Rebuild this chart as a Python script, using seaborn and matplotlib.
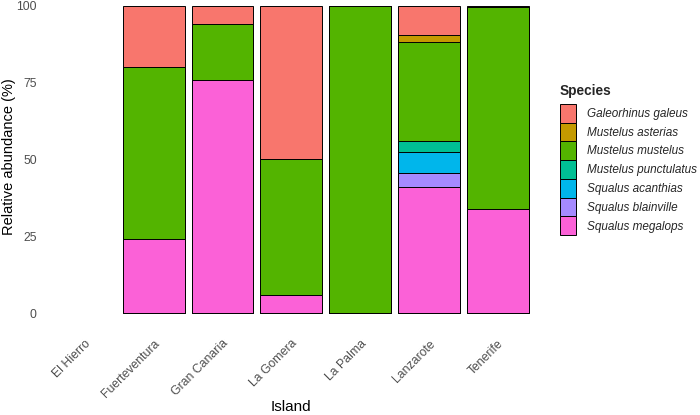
import matplotlib
matplotlib.use("Agg")
import matplotlib.pyplot as plt
from matplotlib.patches import Patch
import seaborn as sns
import pandas as pd
import numpy as np

islands = ["El Hierro", "Fuerteventura", "Gran Canaria", "La Gomera", "La Palma", "Lanzarote", "Tenerife"]
species = ["Galeorhinus galeus", "Mustelus asterias", "Mustelus mustelus",
           "Mustelus punctulatus", "Squalus acanthias", "Squalus blainville", "Squalus megalops"]
colors = ["#F8766D", "#C49A00", "#53B400", "#00C094", "#00B6EB", "#A58AFF", "#FB61D7"]

# relative abundance (%) per island, per species (El Hierro: no records)
galeorhinus_galeus   = [np.nan, 20.0, 6.0, 50.0, 0.0, 9.5, 0.5]
mustelus_asterias    = [np.nan, 0.0, 0.0, 0.0, 0.0, 2.1, 0.0]
mustelus_mustelus    = [np.nan, 56.0, 18.0, 44.0, 100.0, 32.3, 65.5]
mustelus_punctulatus = [np.nan, 0.0, 0.0, 0.0, 0.0, 3.6, 0.0]
squalus_acanthias    = [np.nan, 0.0, 0.0, 0.0, 0.0, 6.8, 0.0]
squalus_blainville   = [np.nan, 0.0, 0.0, 0.0, 0.0, 4.7, 0.0]
squalus_megalops     = [np.nan, 24.0, 76.0, 6.0, 0.0, 41.0, 34.0]

values = [galeorhinus_galeus, mustelus_asterias, mustelus_mustelus, mustelus_punctulatus,
          squalus_acanthias, squalus_blainville, squalus_megalops]

df = pd.DataFrame({"Island": islands})
for sp, v in zip(species, values):
    df[sp] = v
df = df.dropna()

sns.set_theme(style="white")
plt.rcParams["font.family"] = ["Liberation Sans", "DejaVu Sans"]

fig = plt.figure(figsize=(7.0, 4.15), dpi=100)
ax = fig.add_axes([0.0623, 0.2434, 0.7077, 0.7446])

# stacked: first species on top, last at bottom -> draw cumulative from top down
vals = df[species].to_numpy()
for i, (sp, col) in enumerate(zip(species, colors)):
    cum = vals[:, i:].sum(axis=1)
    sns.barplot(x=df["Island"], y=cum, order=islands, color=col, edgecolor="black",
                linewidth=0.7, width=0.9, saturation=1, ax=ax, errorbar=None)

ax.set_xlim(-0.6, 6.6)
ax.set_ylim(-0.3, 100.3)
ax.set_yticks([0, 25, 50, 75, 100])
for s in ax.spines.values():
    s.set_visible(False)
ax.tick_params(axis="both", length=0, colors="#4D4D4D", labelsize=8.8)
ax.tick_params(axis="y", pad=5)
ax.tick_params(axis="x", pad=17)
for lab in ax.get_xticklabels():
    lab.set_rotation(45)
    lab.set_ha("right")
    lab.set_va("top")
    lab.set_rotation_mode("anchor")
ax.set_xlabel("Island", fontsize=11, color="black")
ax.xaxis.set_label_coords(0.5, -0.301)
ax.xaxis.label.set_va("center")
ax.set_ylabel("Relative abundance (%)", fontsize=10.5, color="black")
ax.yaxis.set_label_coords(-0.070, 0.51)
ax.yaxis.label.set_va("center")
ax.grid(False)

handles = [Patch(facecolor=c, edgecolor="black", linewidth=0.7, label=s) for s, c in zip(species, colors)]
leg = fig.legend(handles=handles, title="Species", loc="upper left",
                 bbox_to_anchor=(0.800, 0.797), frameon=False, fontsize=8.5,
                 handlelength=1.35, handleheight=2.07, handletextpad=0.9,
                 labelspacing=0.0, borderaxespad=0, borderpad=0)
leg.get_title().set_fontweight("bold")
leg.get_title().set_fontsize(9.8)
leg._legend_box.align = "left"
leg._legend_box.sep = 4
for t in leg.get_texts():
    t.set_fontstyle("italic")

fig.savefig("out.png", dpi=100)
